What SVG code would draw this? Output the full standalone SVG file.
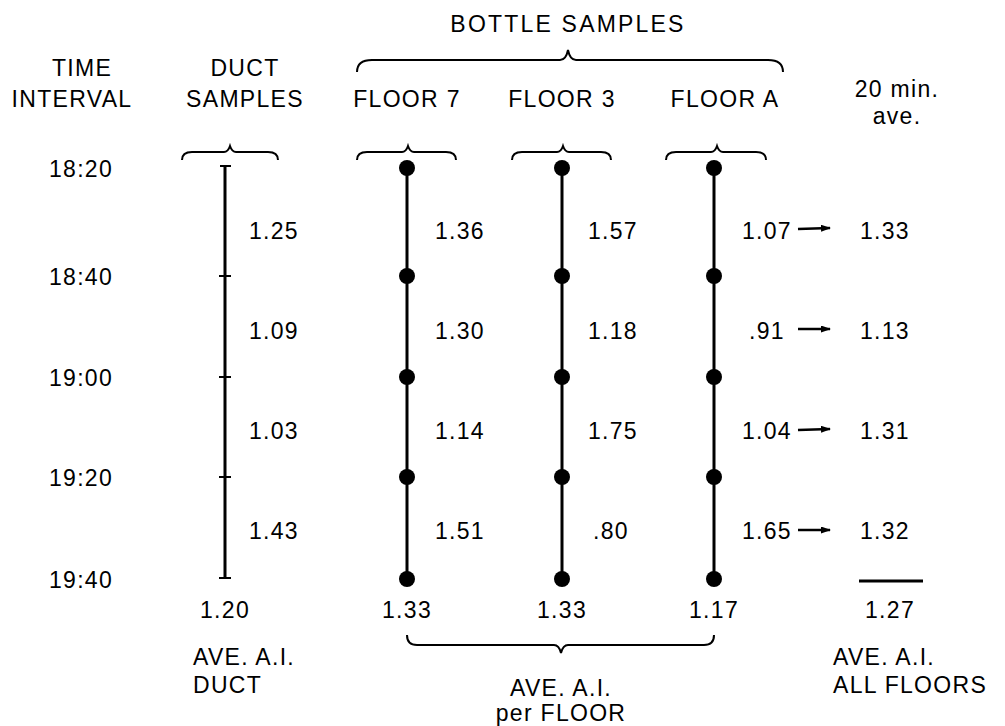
<svg xmlns="http://www.w3.org/2000/svg" width="1005" height="726" viewBox="0 0 1005 726">
<defs>
<style>
text{font-family:"Liberation Sans",Arial,sans-serif;font-size:23px;letter-spacing:1.3px;fill:#000}
.c{text-anchor:middle}
.ln{stroke:#000;stroke-width:3;fill:none}
.br{stroke:#000;stroke-width:2;fill:none}
.ar{stroke:#000;stroke-width:2.5;fill:none}
.dot{fill:#000}
</style>
<marker id="ah" markerWidth="10" markerHeight="7" refX="9" refY="3.5" orient="auto" markerUnits="userSpaceOnUse"><path d="M0,0 L10,3.5 L0,7 Z" fill="#000"/></marker>
</defs>
<rect width="1005" height="726" fill="#fff"/>
<g id="headers">
<text class="c" x="568" y="32" style="letter-spacing:2.2px">BOTTLE SAMPLES</text>
<text class="c" x="82" y="76">TIME</text>
<text class="c" x="72" y="107">INTERVAL</text>
<text class="c" x="245" y="76">DUCT</text>
<text class="c" x="245" y="107">SAMPLES</text>
<text class="c" x="407" y="107">FLOOR 7</text>
<text class="c" x="562" y="107">FLOOR 3</text>
<text class="c" x="725" y="107">FLOOR A</text>
<text class="c" x="897" y="97">20 min.</text>
<text class="c" x="897" y="124">ave.</text>
</g>
<g id="times">
<text class="c" x="81" y="177">18:20</text>
<text class="c" x="81" y="285">18:40</text>
<text class="c" x="81" y="386">19:00</text>
<text class="c" x="81" y="486">19:20</text>
<text class="c" x="81" y="588">19:40</text>
</g>
<g id="braces">
<path class="br" d="M357,72 Q357,60 372,60 L560,60 Q566,60 568,50 Q570,60 576,60 L768,60 Q783,60 783,72"/>
<path class="br" d="M182,160 Q182,152 192,152 L224,152 Q228,152 230,146 Q232,152 236,152 L268,152 Q278,152 278,160"/>
<path class="br" d="M357,160 Q357,152 367,152 L402,152 Q406,152 408,146 Q410,152 414,152 L446,152 Q456,152 456,160"/>
<path class="br" d="M512,160 Q512,152 522,152 L557,152 Q561,152 563,146 Q565,152 569,152 L601,152 Q611,152 611,160"/>
<path class="br" d="M666,160 Q666,152 676,152 L711,152 Q715,152 717,146 Q719,152 723,152 L756,152 Q766,152 766,160"/>
<path class="br" d="M407,635 Q407,645 417,645 L554,645 Q559,645 561,653 Q563,645 568,645 L704,645 Q714,645 714,635"/>
</g>
<g id="duct">
<line class="ln" x1="225" y1="166" x2="225" y2="578"/>
<line class="br" x1="220" y1="166" x2="231" y2="166"/>
<line class="br" x1="219" y1="578" x2="231" y2="578"/>
<line class="br" x1="219" y1="276" x2="231" y2="276"/>
<line class="br" x1="219" y1="377" x2="231" y2="377"/>
<line class="br" x1="219" y1="477" x2="231" y2="477"/>
<text x="249" y="239">1.25</text>
<text x="249" y="339">1.09</text>
<text x="249" y="439">1.03</text>
<text x="249" y="539">1.43</text>
<text class="c" x="225" y="618">1.20</text>
</g>
<g id="floor7">
<line class="ln" x1="407" y1="168" x2="407" y2="579"/>
<circle class="dot" cx="407" cy="168" r="8"/><circle class="dot" cx="407" cy="276" r="8"/><circle class="dot" cx="407" cy="377" r="8"/><circle class="dot" cx="407" cy="477" r="8"/><circle class="dot" cx="407" cy="579" r="8"/>
<text x="435" y="239">1.36</text>
<text x="435" y="339">1.30</text>
<text x="435" y="439">1.14</text>
<text x="435" y="539">1.51</text>
<text class="c" x="407" y="618">1.33</text>
</g>
<g id="floor3">
<line class="ln" x1="562" y1="168" x2="562" y2="579"/>
<circle class="dot" cx="562" cy="168" r="8"/><circle class="dot" cx="562" cy="276" r="8"/><circle class="dot" cx="562" cy="377" r="8"/><circle class="dot" cx="562" cy="477" r="8"/><circle class="dot" cx="562" cy="579" r="8"/>
<text x="588" y="239">1.57</text>
<text x="588" y="339">1.18</text>
<text x="588" y="439">1.75</text>
<text x="593" y="539">.80</text>
<text class="c" x="562" y="618">1.33</text>
</g>
<g id="floorA">
<line class="ln" x1="714" y1="168" x2="714" y2="579"/>
<circle class="dot" cx="714" cy="168" r="8"/><circle class="dot" cx="714" cy="276" r="8"/><circle class="dot" cx="714" cy="377" r="8"/><circle class="dot" cx="714" cy="477" r="8"/><circle class="dot" cx="714" cy="579" r="8"/>
<text x="742" y="239">1.07</text>
<text x="749" y="339">.91</text>
<text x="742" y="439">1.04</text>
<text x="742" y="539">1.65</text>
<text class="c" x="714" y="618">1.17</text>
</g>
<g id="connectors">
<line class="ar" x1="798" y1="229" x2="830" y2="228" marker-end="url(#ah)"/>
<line class="ar" x1="798" y1="329" x2="830" y2="329" marker-end="url(#ah)"/>
<line class="ar" x1="798" y1="430" x2="830" y2="429" marker-end="url(#ah)"/>
<line class="ar" x1="798" y1="530" x2="830" y2="530" marker-end="url(#ah)"/>
</g>
<g id="averages">
<text x="860" y="239">1.33</text>
<text x="860" y="339">1.13</text>
<text x="860" y="439">1.31</text>
<text x="860" y="539">1.32</text>
<line class="ln" x1="859" y1="581" x2="923" y2="581"/>
<text class="c" x="890" y="618">1.27</text>
</g>
<g id="footer">
<text x="193" y="665">AVE. A.I.</text>
<text x="193" y="693">DUCT</text>
<text class="c" x="561" y="696">AVE. A.I.</text>
<text class="c" x="561" y="721">per FLOOR</text>
<text x="833" y="665">AVE. A.I.</text>
<text x="833" y="693">ALL FLOORS</text>
</g>
</svg>
